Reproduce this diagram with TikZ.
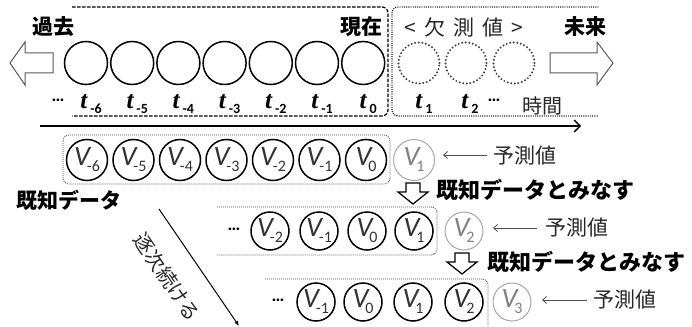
\documentclass[tikz,border=0pt]{standalone}
\usepackage{fontspec}
\setmainfont{Carlito}
\newfontfamily\jp{Noto Sans CJK JP}
\newfontfamily\tser{Liberation Serif}
\usetikzlibrary{arrows.meta}
\newcommand\vlab[1]{{\fontsize{28}{28}\selectfont\itshape V}\kern-3pt\raisebox{-6pt}{\fontsize{16}{16}\selectfont #1}}
\newcommand\tlab[1]{{\tser\fontsize{25}{25}\selectfont\bfseries\itshape t}\kern3pt\raisebox{-5pt}{\fontsize{14}{14}\selectfont\bfseries #1}}
\newcommand\ddd{{\fontsize{18}{18}\selectfont\bfseries\dots}}
\begin{document}
\begin{tikzpicture}[x=1pt,y=-1pt,
  tc/.style={circle,draw,line width=1.5pt,minimum size=43pt,inner sep=0pt},
  dc/.style={circle,draw=black!75,line width=2.2pt,line cap=round,dash pattern=on 0pt off 3.6pt,minimum size=41pt,inner sep=0pt},
  vc/.style={circle,draw,line width=1.5pt,minimum size=41pt,inner sep=0pt,text=black!80},
  vs/.style={vc,minimum size=38pt},
  vg/.style={draw=gray!70,line width=1pt,text=gray},
  jpb/.style={font=\jp\bfseries\fontsize{21}{21}\selectfont},
  jpr/.style={font=\jp\fontsize{21}{21}\selectfont,text=black!85},
  hollow/.style={draw=black!65,line width=1pt,fill=white},
  box/.style={draw=black!70,line width=0.8pt,dash pattern=on 1pt off 1pt,rounded corners=6pt},
  pred/.style={draw=black!70,line width=0.8pt,-{Straight Barb[length=4pt,width=7pt]}}
]
\useasboundingbox (0,0) rectangle (692,326);

% ---------- top row ----------
\draw[hollow] (10,63) -- (25,42) -- (25,53) -- (53,53) -- (53,73) -- (25,73) -- (25,85) -- cycle;
\draw[hollow] (550,53) -- (597,53) -- (597,42) -- (613,63) -- (597,85) -- (597,73) -- (550,73) -- cycle;

\foreach \i/\s in {0/-6,1/-5,2/-4,3/-3,4/-2,5/-1,6/0}{
  \node[tc] (c\i) at ({86+46.2*\i},63) {};
  \node (tl\i) at ({91+46.2*\i},104) {\tlab{\s}};
}
\node (tdots) at (58,100) {\ddd};
\node[dc] (f1) at (419,63) {};
\node[dc] (f2) at (466,63) {};
\node[dc] (f3) at (514,63) {};
\node (tf1) at (424,104) {\tlab{1}};
\node (tf2) at (470,104) {\tlab{2}};
\node (fdots) at (494,100) {\ddd};
\node[jpr,font=\jp\fontsize{20}{20}\selectfont] (jikan) at (542,106) {時間};

\node[jpb] (kako) at (53,27) {過去};
\node[jpb] (genzai) at (361,27) {現在};
\node[jpr] (kesoku) at (464,27) {<\hspace{8pt}欠\hspace{8pt}測\hspace{8pt}値\hspace{8pt}>};
\node[jpb] (mirai) at (585,27) {未来};

\draw[line width=1.2pt,dash pattern=on 3.5pt off 1.5pt,rounded corners=6pt] (72,7) -- (388,7) -- (388,116) -- (72,116);
\draw[line width=1.4pt,line cap=round,dash pattern=on 0pt off 2.2pt,rounded corners=6pt] (598,7) -- (392,7) -- (392,116) -- (598,116);

\coordinate (ta) at (40,126);
\coordinate (tb) at (581,126);
\draw[line width=1.6pt,-{Straight Barb[length=6pt,width=12pt,line width=1.4pt]}] (ta) -- (tb);

% ---------- row 2 ----------
\foreach \i/\s in {0/-6,1/-5,2/-4,3/-3,4/-2,5/-1,6/0}{
  \node[vc] (a\i) at ({87+46.5*\i},160) {\vlab{\s}};
}
\node[vc,vg] (a7) at (414,160) {\vlab{1}};
\draw[box] (63,135) rectangle (390,184);
\node[jpr] (p1) at (525,156) {予測値};
\draw[hollow,draw=black,line width=1.2pt] (406,183) -- (420,183) -- (420,192) -- (428,192) -- (413,204) -- (398,192) -- (406,192) -- cycle;
\node[jpb,font=\jp\bfseries\fontsize{22}{22}\selectfont] (m1) at (535,190) {既知データとみなす};
\node[jpb] (kichi) at (69,200) {既知データ};

% ---------- row 3 ----------
\node (d3) at (234,229) {\ddd};
\node[vs] (b0) at (270,231) {\vlab{-2}};
\node[vs] (b1) at (319,231) {\vlab{-1}};
\node[vs] (b2) at (367,231) {\vlab{0}};
\node[vs] (b3) at (414,231) {\vlab{1}};
\node[vs,vg] (b4) at (464,231) {\vlab{2}};
\draw[box] (217,207) -- (437,207) -- (437,255) -- (217,255);
\node[jpr] (p2) at (577,228) {予測値};
\draw[hollow,draw=black,line width=1.2pt] (455,253) -- (469,253) -- (469,262) -- (477,262) -- (462,274) -- (447,262) -- (455,262) -- cycle;
\node[jpb,font=\jp\bfseries\fontsize{22}{22}\selectfont] (m2) at (586,262) {既知データとみなす};

% ---------- row 4 ----------
\node (d4) at (278,300) {\ddd};
\node[vs] (e0) at (316,302) {\vlab{-1}};
\node[vs] (e1) at (363,302) {\vlab{0}};
\node[vs] (e2) at (413,302) {\vlab{1}};
\node[vs] (e3) at (464,302) {\vlab{2}};
\node[vs,vg] (e4) at (512,302) {\vlab{3}};
\draw[box] (265,279) -- (488,279) -- (488,326);
\node[jpr] (p3) at (625,300) {予測値};

% predicted-value arrows
\coordinate (q1s) at (487,155); \coordinate (q1e) at (443,155);
\coordinate (q2s) at (537,228); \coordinate (q2e) at (493,228);
\coordinate (q3s) at (587,300); \coordinate (q3e) at (542,300);
\draw[pred] (q1s) -- (q1e);
\draw[pred] (q2s) -- (q2e);
\draw[pred] (q3s) -- (q3e);

% diagonal arrow
\coordinate (ds) at (159,209);
\coordinate (de) at (239,326);
\draw[line width=1pt,-{Latex[length=5pt,width=4pt]}] (ds) -- (de);
\node[jpr,rotate=-55.7,font=\jp\fontsize{20}{20}\selectfont] (chikuji) at (167,277) {逐次続ける};
\end{tikzpicture}
\end{document}
